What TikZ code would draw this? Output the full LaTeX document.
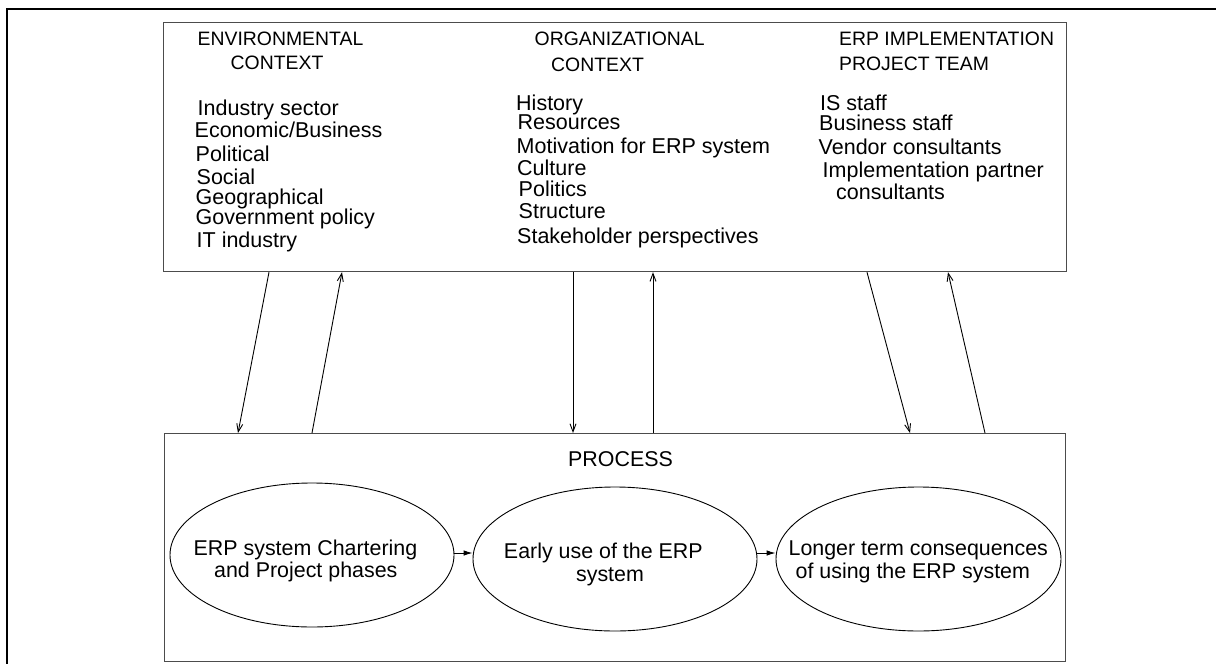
\documentclass[tikz,border=0pt]{standalone}
\usepackage{fontspec}
\setmainfont{Liberation Sans}
\usetikzlibrary{shapes.geometric,arrows.meta,calc}
\begin{document}
\begin{tikzpicture}[x=1pt,y=-1pt,
  box/.style={draw=black!70,line width=1.2pt,inner sep=0pt,anchor=north west},
  oval/.style={draw,ellipse,line width=0.9pt,inner sep=0pt,minimum width=284pt,minimum height=144pt},
  head/.style={font=\fontsize{19.4}{22}\selectfont,anchor=base west,inner sep=0pt},
  item/.style={font=\fontsize{21.5}{24}\selectfont,anchor=base west,inner sep=0pt},
  inside/.style={font=\fontsize{21.4}{24}\selectfont,anchor=base,inner sep=0pt},
  link/.style={line width=0.9pt,-{Straight Barb[length=8pt,width=6pt]}},
  flow/.style={line width=0.9pt,-{Latex[length=9pt,width=5.5pt]}}]
\useasboundingbox (0,0) rectangle (1216,664);

% frame
\draw[line width=2.3pt] (7,664) -- (7,9) -- (1216,9);

% context box and process box
\node[box,minimum width=903pt,minimum height=249pt] (ctx) at (163,22) {};
\node[box,minimum width=901pt,minimum height=228pt] (proc) at (164,433) {};

% environmental context
\node[head] (envh1) at (197.5,45.7) {ENVIRONMENTAL};
\node[head] (envh2) at (230.5,69.3) {CONTEXT};
\node[item] (env1) at (197.5,115) {Industry sector};
\node[item] (env2) at (194.5,137.7) {Economic/Business};
\node[item] (env3) at (195.5,161.5) {Political};
\node[item] (env4) at (196.5,184) {Social};
\node[item] (env5) at (195.5,204) {Geographical};
\node[item] (env6) at (195.5,224) {Government policy};
\node[item] (env7) at (196.5,247.3) {IT industry};

% organizational context
\node[head] (orgh1) at (534.5,45.7) {ORGANIZATIONAL};
\node[head] (orgh2) at (551,71) {CONTEXT};
\node[item] (org1) at (516,110) {History};
\node[item] (org2) at (517.5,129.3) {Resources};
\node[item] (org3) at (516.5,153.3) {Motivation for ERP system};
\node[item] (org4) at (517,175) {Culture};
\node[item] (org5) at (518.5,196.7) {Politics};
\node[item] (org6) at (518.5,218.3) {Structure};
\node[item] (org7) at (517,243.3) {Stakeholder perspectives};

% project team
\node[head] (teamh1) at (839,45) {ERP IMPLEMENTATION};
\node[head] (teamh2) at (839,70) {PROJECT TEAM};
\node[item] (team1) at (820,110) {IS staff};
\node[item] (team2) at (819,130) {Business staff};
\node[item] (team3) at (818.5,154) {Vendor consultants};
\node[item] (team4) at (822.5,177.3) {Implementation partner};
\node[item] (team5) at (836,199) {consultants};

% links between the context box and the process box
\draw[link] ($(ctx.south west)+(106,0)$) -- ($(proc.north west)+(74,0)$);
\draw[link] ($(proc.north west)+(148,0)$) -- ($(ctx.south west)+(179,0)$);
\draw[link] ($(ctx.south west)+(410,0)$) -- ($(proc.north west)+(409,0)$);
\draw[link] ($(proc.north west)+(489,0)$) -- ($(ctx.south west)+(490,0)$);
\draw[link] ($(ctx.south west)+(704,0)$) -- ($(proc.north west)+(746,0)$);
\draw[link] ($(proc.north west)+(821,0)$) -- ($(ctx.south west)+(785,0)$);

% process
\node[inside,anchor=base west] (proch) at (568,466.7) {PROCESS};
\node[oval] (e1) at (312,555) {};
\node[oval] (e2) at (615,559) {};
\node[oval,minimum width=285pt] (e3) at (918.5,559) {};

\node[inside] (e1a) at (305.5,555) {ERP system Chartering};
\node[inside] (e1b) at (305.8,577.7) {and Project phases};
\node[inside] (e2a) at (603.3,558.3) {Early use of the ERP};
\node[inside] (e2b) at (610,581.7) {system};
\node[inside] (e3a) at (918.3,555) {Longer term consequences};
\node[inside] (e3b) at (912.8,578.3) {of using the ERP system};

\draw[flow] (e1.east |- 0,553) -- (e2.west |- 0,553);
\draw[flow] (e2.east |- 0,553) -- (e3.west |- 0,553);
\end{tikzpicture}
\end{document}
